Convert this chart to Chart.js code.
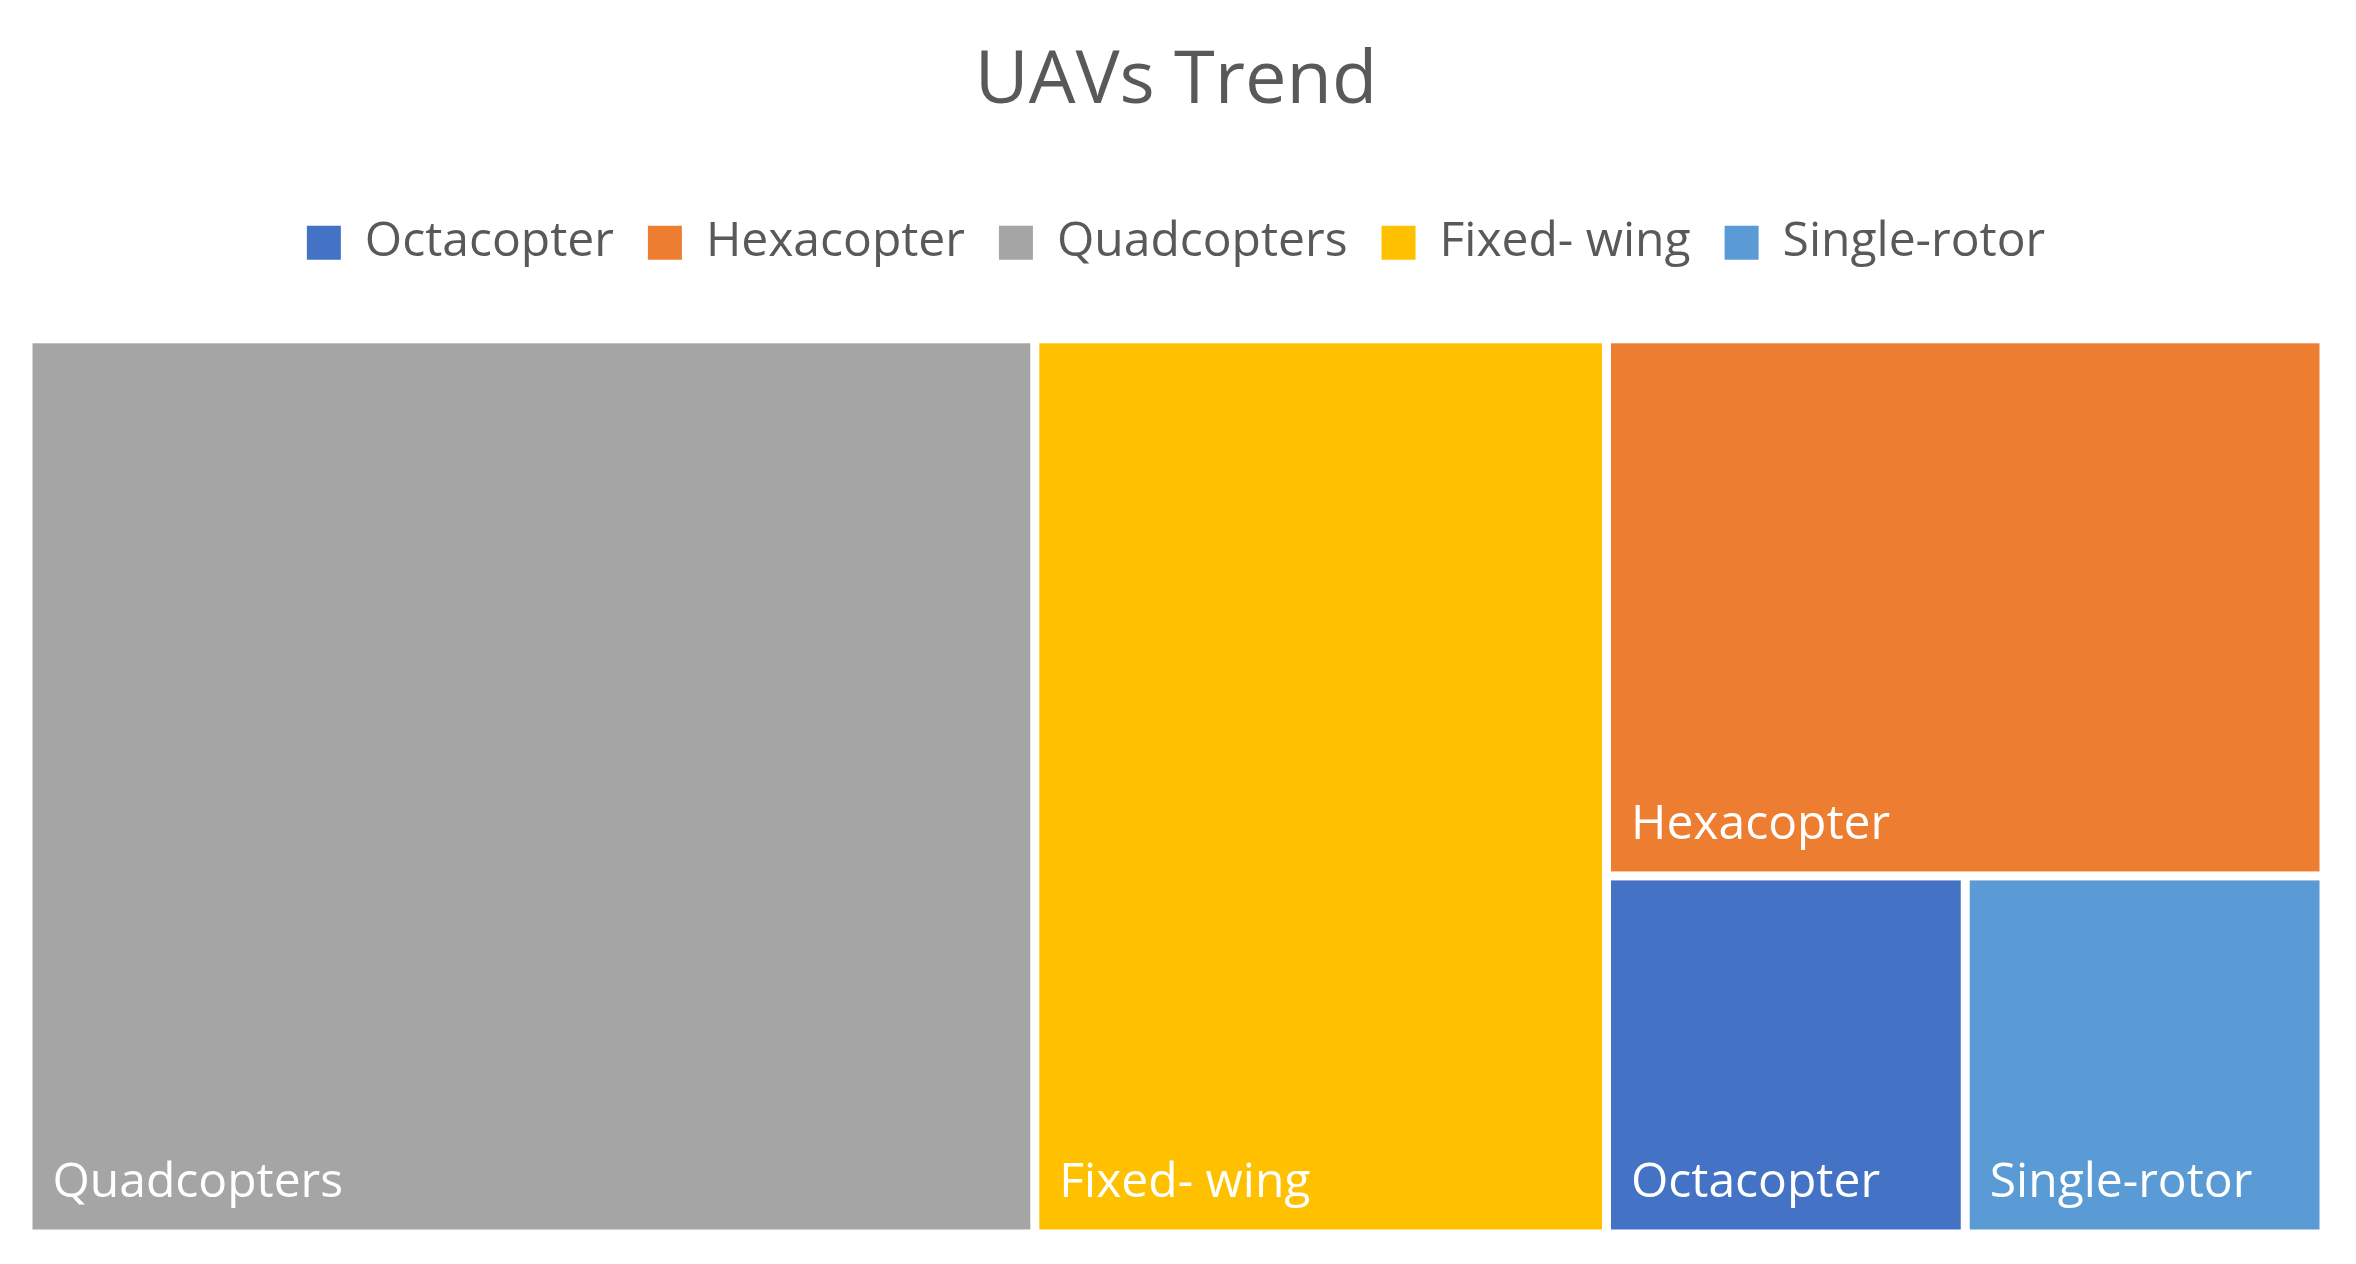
<!DOCTYPE html>
<html><head><meta charset="utf-8">
<script src="https://cdn.jsdelivr.net/npm/chart.js@4/dist/chart.umd.min.js"></script>
<style>html,body{margin:0;background:#fff}#w{width:2356px;height:1264px}</style>
</head><body><div id="w"><canvas id="c"></canvas></div>
<script>
const categories = ["Octacopter","Hexacopter","Quadcopters","Fixed- wing","Single-rotor"];
const values = [6.2, 18.6, 43.5, 24.7, 6.2];
const colors = ["#4472C4","#ED7D31","#A5A5A5","#FFC000","#5B9BD5"];
const FONT = "'Open Sans', 'Noto Sans', sans-serif";

function layout() {
  const v = n => values[categories.indexOf(n)];
  const rects = [];
  let x = 0;
  rects.push({n:"Quadcopters", x0:x, x1:x+v("Quadcopters"), y0:0, y1:1}); x += v("Quadcopters");
  rects.push({n:"Fixed- wing", x0:x, x1:x+v("Fixed- wing"), y0:0, y1:1}); x += v("Fixed- wing");
  const col = v("Hexacopter")+v("Octacopter")+v("Single-rotor");
  const hFrac = v("Hexacopter")/col;
  rects.push({n:"Hexacopter", x0:x, x1:x+col, y0:1-hFrac, y1:1});
  const bot = v("Octacopter")+v("Single-rotor");
  rects.push({n:"Octacopter", x0:x, x1:x+col*v("Octacopter")/bot, y0:0, y1:1-hFrac});
  rects.push({n:"Single-rotor", x0:x+col*v("Octacopter")/bot, x1:x+col, y0:0, y1:1-hFrac});
  return {rects, total:x+col};
}
const L = layout();

const legendGap = {
  id:'legendGap',
  beforeInit(chart){
    const f = chart.legend.fit;
    chart.legend.fit = function(){ f.bind(this)(); this.height += 62; };
  }
};

const treemapPlugin = {
  id:'treemap',
  afterDatasetsDraw(chart){
    const {ctx, scales:{x, y}} = chart;
    const g = 4.5;
    L.rects.forEach(r=>{
      const px0 = x.getPixelForValue(r.x0), px1 = x.getPixelForValue(r.x1);
      const py0 = y.getPixelForValue(r.y1), py1 = y.getPixelForValue(r.y0);
      ctx.save();
      ctx.fillStyle = colors[categories.indexOf(r.n)];
      ctx.fillRect(px0+g, py0+g, px1-px0-2*g, py1-py0-2*g);
      ctx.fillStyle = "#fff";
      ctx.font = "48px " + FONT;
      ctx.textBaseline = "middle";
      ctx.fillText(r.n, px0+g+20, py1-g-46);
      ctx.restore();
    });
  }
};

new Chart(document.getElementById('c'), {
  type:'bar',
  data:{ labels:[""], datasets: categories.map((c,i)=>({label:c, data:[], backgroundColor:colors[i], borderWidth:0})) },
  options:{
    responsive:true, maintainAspectRatio:false, animation:false,
    layout:{padding:{left:28, right:32, bottom:30, top:28}},
    scales:{
      x:{type:'linear', min:0, max:L.total, display:false, offset:false},
      y:{type:'linear', min:0, max:1, display:false}
    },
    plugins:{
      tooltip:{enabled:false},
      title:{display:true, text:"UAVs Trend", color:"#595959", font:{family:FONT, size:74, weight:'normal'}, padding:{top:10, bottom:58}},
      legend:{labels:{color:"#595959", font:{family:FONT, size:48}, boxWidth:34, boxHeight:34, padding:34}}
    }
  },
  plugins:[legendGap, treemapPlugin]
});
</script></body></html>
